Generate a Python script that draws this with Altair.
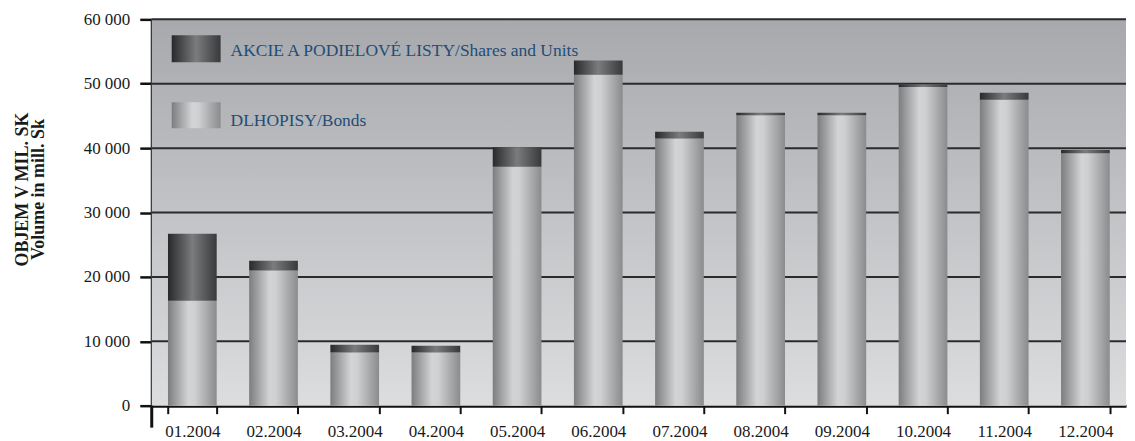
import altair as alt
import pandas as pd

months = ["01.2004", "02.2004", "03.2004", "04.2004", "05.2004", "06.2004",
          "07.2004", "08.2004", "09.2004", "10.2004", "11.2004", "12.2004"]
bonds = [16300, 21000, 8250, 8250, 37100, 51400, 41500, 45100, 45100, 49500, 47500, 39200]
shares = [10400, 1500, 1200, 1050, 3050, 2200, 1050, 400, 400, 400, 1100, 500]
y_ticks = [0, 10000, 20000, 30000, 40000, 50000, 60000]
grid_lines = [10000, 20000, 30000, 40000, 50000, 60000]
legend_labels = ["AKCIE A PODIELOVÉ LISTY/Shares and Units", "DLHOPISY/Bonds"]

df = pd.DataFrame({"month": months, "bonds": bonds, "shares": shares})
df["total"] = df["bonds"] + df["shares"]

W, H = 976, 387
FONT = "Liberation Serif"

bond_grad = alt.Gradient(
    gradient="linear", x1=0, y1=0, x2=1, y2=0,
    stops=[alt.GradientStop(offset=0, color="#7c7d7f"),
           alt.GradientStop(offset=0.42, color="#d3d4d6"),
           alt.GradientStop(offset=0.55, color="#cfd0d2"),
           alt.GradientStop(offset=1, color="#8a8b8d")])
share_grad = alt.Gradient(
    gradient="linear", x1=0, y1=0, x2=1, y2=0,
    stops=[alt.GradientStop(offset=0, color="#29292b"),
           alt.GradientStop(offset=0.5, color="#7b7c7e"),
           alt.GradientStop(offset=1, color="#39393b")])
bg_grad = alt.Gradient(
    gradient="linear", x1=0, y1=0, x2=0, y2=1,
    stops=[alt.GradientStop(offset=0, color="#a8a9ac"),
           alt.GradientStop(offset=1, color="#dcdddf")])

one = pd.DataFrame({"a": [0]})

background = alt.Chart(one).mark_rect(color=bg_grad).encode(
    x=alt.value(0), x2=alt.value(W), y=alt.value(0), y2=alt.value(H))

axis_ext = alt.Chart(one).mark_rule(color="#111", strokeWidth=3).encode(
    x=alt.value(0), y=alt.value(H), y2=alt.value(H + 22))

grid = alt.Chart(pd.DataFrame({"v": grid_lines})).mark_rule(
    color="#2b2b2d", strokeWidth=2).encode(
    y=alt.Y("v:Q", scale=alt.Scale(domain=[0, 60000])))

xenc = alt.X("month:N", sort=months, title=None,
             scale=alt.Scale(paddingInner=0.4, paddingOuter=0.2),
             axis=alt.Axis(labelAngle=0, labelFont=FONT, labelFontSize=17,
                           labelColor="#1a1a1a", labelPadding=10,
                           tickBand="extent", tickSize=8, tickWidth=2,
                           tickColor="#111", domainColor="#111", domainWidth=3,
                           grid=False))

bar_bonds = alt.Chart(df).mark_bar(color=bond_grad).encode(
    x=xenc,
    y=alt.Y("bonds:Q", scale=alt.Scale(domain=[0, 60000]),
            title=["OBJEM V MIL. SK", "Volume in mill. Sk"],
            axis=alt.Axis(values=y_ticks, grid=False,
                          labelExpr="replace(format(datum.value, ','), ',', ' ')",
                          labelFont=FONT, labelFontSize=17, labelColor="#1a1a1a",
                          labelPadding=10, tickSize=12, tickWidth=2.5, tickColor="#111",
                          domainColor="#111", domainWidth=3,
                          titleFont=FONT, titleFontSize=18, titleFontWeight="bold",
                          titleColor="#1a1a1a", titlePadding=36, titleLineHeight=16,
                          titleY=170)))

bar_shares = alt.Chart(df).mark_bar(color=share_grad).encode(
    x=alt.X("month:N", sort=months),
    y=alt.Y("bonds:Q"), y2=alt.Y2("total:Q"))

leg_df = pd.DataFrame({"label": legend_labels, "kind": ["s", "b"]})
leg_s = alt.Chart(leg_df[leg_df.kind == "s"]).mark_rect(color=share_grad).encode(
    x=alt.value(20), x2=alt.value(69), y=alt.value(16), y2=alt.value(43))
leg_b = alt.Chart(leg_df[leg_df.kind == "b"]).mark_rect(color=bond_grad).encode(
    x=alt.value(20), x2=alt.value(69), y=alt.value(83), y2=alt.value(109))
leg_ts = alt.Chart(leg_df[leg_df.kind == "s"]).mark_text(
    align="left", baseline="alphabetic", font=FONT, fontSize=17.5, color="#1f4d78").encode(
    x=alt.value(79), y=alt.value(37), text="label:N")
leg_tb = alt.Chart(leg_df[leg_df.kind == "b"]).mark_text(
    align="left", baseline="alphabetic", font=FONT, fontSize=17.5, color="#1f4d78").encode(
    x=alt.value(79), y=alt.value(107), text="label:N")

chart = alt.layer(background, grid, bar_bonds, bar_shares, axis_ext,
                  leg_s, leg_b, leg_ts, leg_tb).properties(
    width=W, height=H,
    padding={"left": 5, "top": 2, "right": 0, "bottom": 0},
    background="white"
).configure_view(stroke=None)

chart.save("out.html", embed_options={"renderer": "svg", "actions": False})
